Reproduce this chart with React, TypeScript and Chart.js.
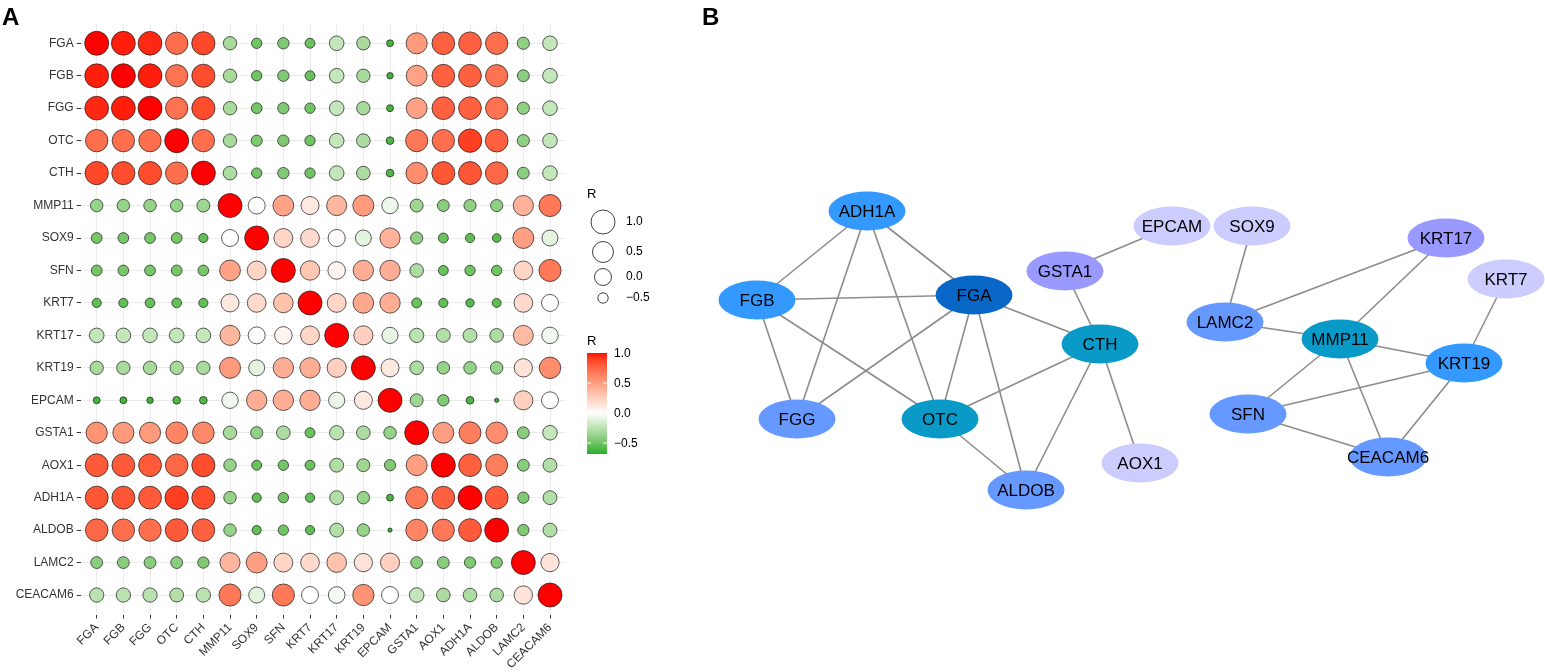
import React, { useEffect, useRef } from "react";
import { Chart, registerables } from "chart.js";
Chart.register(...registerables);

// ---------------- Panel A data ----------------
const genes = ["FGA","FGB","FGG","OTC","CTH","MMP11","SOX9","SFN","KRT7","KRT17","KRT19","EPCAM","GSTA1","AOX1","ADH1A","ALDOB","LAMC2","CEACAM6"];

const rowFGA     = [1.00, 0.97, 0.95, 0.72, 0.87, -0.32, -0.50, -0.45, -0.52, -0.22, -0.32, -0.62, 0.52, 0.78, 0.78, 0.72, -0.40, -0.22];
const rowFGB     = [0.97, 1.00, 0.97, 0.70, 0.85, -0.32, -0.50, -0.45, -0.52, -0.22, -0.32, -0.63, 0.48, 0.78, 0.78, 0.70, -0.42, -0.22];
const rowFGG     = [0.95, 0.97, 1.00, 0.70, 0.85, -0.32, -0.48, -0.45, -0.50, -0.22, -0.32, -0.62, 0.48, 0.78, 0.78, 0.70, -0.40, -0.22];
const rowOTC     = [0.72, 0.72, 0.72, 1.00, 0.72, -0.32, -0.46, -0.45, -0.50, -0.22, -0.30, -0.60, 0.68, 0.72, 0.90, 0.78, -0.40, -0.22];
const rowCTH     = [0.87, 0.85, 0.85, 0.72, 1.00, -0.30, -0.50, -0.45, -0.50, -0.22, -0.30, -0.60, 0.58, 0.82, 0.82, 0.75, -0.42, -0.22];
const rowMMP11   = [-0.38, -0.38, -0.38, -0.38, -0.35, 1.00, 0.00, 0.48, 0.12, 0.38, 0.52, -0.06, -0.35, -0.42, -0.40, -0.40, 0.40, 0.68];
const rowSOX9    = [-0.48, -0.48, -0.48, -0.48, -0.55, 0.00, 1.00, 0.22, 0.20, 0.02, -0.10, 0.40, -0.40, -0.52, -0.55, -0.57, 0.50, -0.10];
const rowSFN     = [-0.48, -0.48, -0.48, -0.48, -0.48, 0.48, 0.22, 1.00, 0.30, 0.06, 0.42, 0.42, -0.30, -0.52, -0.50, -0.50, 0.22, 0.68];
const rowKRT7    = [-0.55, -0.55, -0.53, -0.53, -0.55, 0.12, 0.20, 0.32, 1.00, 0.22, 0.45, 0.42, -0.52, -0.55, -0.58, -0.56, 0.20, 0.00];
const rowKRT17   = [-0.22, -0.22, -0.22, -0.22, -0.22, 0.38, 0.00, 0.06, 0.22, 1.00, 0.25, -0.08, -0.25, -0.28, -0.28, -0.30, 0.36, -0.05];
const rowKRT19   = [-0.32, -0.32, -0.32, -0.32, -0.32, 0.52, -0.10, 0.42, 0.42, 0.25, 1.00, 0.12, -0.30, -0.38, -0.38, -0.38, 0.15, 0.58];
const rowEPCAM   = [-0.62, -0.62, -0.63, -0.60, -0.60, -0.06, 0.42, 0.42, 0.42, -0.08, 0.12, 1.00, -0.35, -0.45, -0.60, -0.66, 0.25, 0.00];
const rowGSTA1   = [0.55, 0.52, 0.52, 0.62, 0.60, -0.32, -0.40, -0.30, -0.52, -0.25, -0.30, -0.38, 1.00, 0.50, 0.65, 0.58, -0.42, -0.22];
const rowAOX1    = [0.80, 0.80, 0.80, 0.75, 0.85, -0.38, -0.52, -0.50, -0.52, -0.28, -0.35, -0.45, 0.50, 1.00, 0.78, 0.65, -0.42, -0.28];
const rowADH1A   = [0.82, 0.82, 0.80, 0.90, 0.85, -0.38, -0.55, -0.50, -0.55, -0.28, -0.38, -0.62, 0.68, 0.78, 1.00, 0.80, -0.45, -0.28];
const rowALDOB   = [0.75, 0.72, 0.72, 0.80, 0.78, -0.38, -0.55, -0.50, -0.55, -0.28, -0.38, -0.66, 0.62, 0.68, 0.80, 1.00, -0.45, -0.28];
const rowLAMC2   = [-0.42, -0.42, -0.42, -0.42, -0.45, 0.38, 0.50, 0.22, 0.20, 0.32, 0.15, 0.25, -0.42, -0.42, -0.45, -0.45, 1.00, 0.15];
const rowCEACAM6 = [-0.25, -0.25, -0.25, -0.28, -0.25, 0.68, -0.10, 0.68, 0.00, -0.04, 0.55, 0.00, -0.22, -0.30, -0.30, -0.30, 0.15, 1.00];

const corrRows = [rowFGA, rowFGB, rowFGG, rowOTC, rowCTH, rowMMP11, rowSOX9, rowSFN, rowKRT7, rowKRT17, rowKRT19, rowEPCAM, rowGSTA1, rowAOX1, rowADH1A, rowALDOB, rowLAMC2, rowCEACAM6];

const sizeLegendValues = [1.0, 0.5, 0.0, -0.5];
const sizeLegendLabels = ["1.0", "0.5", "0.0", "\u22120.5"];
const colorbarValues = [1.0, 0.5, 0.0, -0.5];
const colorbarLabels = ["1.0", "0.5", "0.0", "\u22120.5"];
const R_MIN = -0.667;
const R_MAX = 1.0;

// ---------------- Panel B data ----------------
const nodeNames = ["ADH1A","EPCAM","SOX9","KRT17","GSTA1","KRT7","FGB","FGA","LAMC2","MMP11","CTH","KRT19","FGG","OTC","SFN","AOX1","CEACAM6","ALDOB"];
const nodeX = [867, 1172, 1252, 1446, 1065, 1506, 757, 974, 1225, 1340, 1100, 1464, 797, 940, 1248, 1140, 1388, 1026];
const nodeY = [211, 226, 226, 238, 271, 279, 300, 295, 322, 339, 344, 363, 419, 419, 414, 463, 457, 490];
const edgeFrom = ["ADH1A","ADH1A","ADH1A","ADH1A","FGB","FGB","FGB","FGA","FGA","FGA","FGA","GSTA1","GSTA1","CTH","CTH","CTH","OTC","SOX9","KRT17","KRT17","LAMC2","MMP11","KRT7","MMP11","MMP11","KRT19","KRT19","SFN"];
const edgeTo   = ["FGB","FGG","OTC","FGA","FGA","FGG","OTC","FGG","OTC","ALDOB","CTH","EPCAM","CTH","OTC","ALDOB","AOX1","ALDOB","LAMC2","LAMC2","MMP11","MMP11","KRT19","KRT19","SFN","CEACAM6","SFN","CEACAM6","CEACAM6"];
const degreeColors: Record<number, string> = { 1: "#CCCCFF", 2: "#9999FF", 3: "#6699FF", 4: "#3399FF", 5: "#0A9AC8", 6: "#0866C6" };

// ---------------- colour helpers (Lab interpolation like ggplot) ----------------
const FONT = '"Liberation Sans", Arial, Helvetica, sans-serif';
function hexToRgb(h: string) { return [1, 3, 5].map((i) => parseInt(h.slice(i, i + 2), 16)); }
function toLin(c: number) { c /= 255; return c <= 0.04045 ? c / 12.92 : Math.pow((c + 0.055) / 1.055, 2.4); }
function fromLin(c: number) {
  const v = c <= 0.0031308 ? 12.92 * c : 1.055 * Math.pow(Math.max(c, 0), 1 / 2.4) - 0.055;
  return Math.round(Math.min(1, Math.max(0, v)) * 255);
}
function rgbToLab(rgb: number[]) {
  const [r, g, b] = rgb.map(toLin);
  const X = (0.4124 * r + 0.3576 * g + 0.1805 * b) / 0.95047;
  const Y = 0.2126 * r + 0.7152 * g + 0.0722 * b;
  const Z = (0.0193 * r + 0.1192 * g + 0.9505 * b) / 1.08883;
  const f = (t: number) => (t > 0.008856 ? Math.cbrt(t) : 7.787 * t + 16 / 116);
  const fx = f(X), fy = f(Y), fz = f(Z);
  return [116 * fy - 16, 500 * (fx - fy), 200 * (fy - fz)];
}
function labToRgb(lab: number[]) {
  const [L, a, b] = lab;
  const fy = (L + 16) / 116, fx = fy + a / 500, fz = fy - b / 200;
  const finv = (t: number) => (t * t * t > 0.008856 ? t * t * t : (t - 16 / 116) / 7.787);
  const X = finv(fx) * 0.95047, Y = finv(fy), Z = finv(fz) * 1.08883;
  const r = 3.2406 * X - 1.5372 * Y - 0.4986 * Z;
  const g = -0.9689 * X + 1.8758 * Y + 0.0415 * Z;
  const bb = 0.0557 * X - 0.204 * Y + 1.057 * Z;
  return [fromLin(r), fromLin(g), fromLin(bb)];
}
const LAB_WHITE = rgbToLab([255, 255, 255]);
const LAB_RED = rgbToLab(hexToRgb("#FF0000"));
const LAB_GREEN = rgbToLab(hexToRgb("#2CAF2C"));
function fillFor(v: number) {
  const target = v >= 0 ? LAB_RED : LAB_GREEN;
  const t = v >= 0 ? Math.min(1, v / R_MAX) : Math.min(1, v / R_MIN);
  const lab = LAB_WHITE.map((w, i) => w + (target[i] - w) * t);
  const [r, g, b] = labToRgb(lab);
  return `rgb(${r},${g},${b})`;
}
function radiusFor(v: number) {
  const t = Math.max(0, (v - R_MIN) / (R_MAX - R_MIN));
  return (2 + 22 * Math.pow(t, 0.42)) / 2;
}

// ---------------- Panel A chart ----------------
function buildMatrixConfig(): any {
  const points: any[] = [];
  corrRows.forEach((row, ri) => {
    row.forEach((v, ci) => {
      points.push({ x: ci + 1, y: ri + 1, r: radiusFor(v), v });
    });
  });
  const tickFont = { family: FONT, size: 12 };
  const legendPlugin = {
    id: "matrixLegend",
    afterDraw(chart: any) {
      const ctx = chart.ctx;
      ctx.save();
      ctx.fillStyle = "#000";
      ctx.textAlign = "left";
      ctx.textBaseline = "alphabetic";
      ctx.font = `bold 24px ${FONT}`;
      ctx.fillText("A", 2, 25);

      // size legend
      ctx.font = `13px ${FONT}`;
      ctx.fillText("R", 587, 198);
      const sizeYs = [222, 252, 277, 298];
      ctx.textBaseline = "middle";
      ctx.font = `12px ${FONT}`;
      sizeLegendValues.forEach((v, i) => {
        ctx.beginPath();
        ctx.arc(603, sizeYs[i], radiusFor(v), 0, Math.PI * 2);
        ctx.fillStyle = "#fff";
        ctx.fill();
        ctx.lineWidth = 0.8;
        ctx.strokeStyle = "#111";
        ctx.stroke();
        ctx.fillStyle = "#000";
        ctx.fillText(sizeLegendLabels[i], 626, sizeYs[i]);
      });

      // colour bar
      ctx.textBaseline = "alphabetic";
      ctx.font = `13px ${FONT}`;
      ctx.fillText("R", 587, 345);
      const barTop = 353, pxPerUnit = 60, barX = 587, barW = 20;
      const barBottom = barTop + (R_MAX - R_MIN) * pxPerUnit;
      for (let y = barTop; y < barBottom; y += 1) {
        const v = R_MAX - (y + 0.5 - barTop) / pxPerUnit;
        ctx.fillStyle = fillFor(v);
        ctx.fillRect(barX, y, barW, 1);
      }
      ctx.strokeStyle = "#fff";
      ctx.lineWidth = 1;
      ctx.font = `12px ${FONT}`;
      ctx.textBaseline = "middle";
      colorbarValues.forEach((v, i) => {
        const y = barTop + (R_MAX - v) * pxPerUnit;
        if (i > 0) {
          ctx.beginPath();
          ctx.moveTo(barX, y); ctx.lineTo(barX + 4, y);
          ctx.moveTo(barX + barW - 4, y); ctx.lineTo(barX + barW, y);
          ctx.stroke();
        }
        ctx.fillStyle = "#000";
        ctx.fillText(colorbarLabels[i], 614, y + 1);
      });
      ctx.restore();
    },
  };

  const tickSetter = (scale: any) => {
    scale.ticks = genes.map((_, i) => ({ value: i + 1 }));
  };

  return {
    type: "bubble",
    data: {
      datasets: [
        {
          data: points,
          backgroundColor: (c: any) => (c.raw ? fillFor(c.raw.v) : "#fff"),
          borderColor: "#1a1a1a",
          borderWidth: 0.7,
          clip: false,
        },
      ],
    },
    options: {
      responsive: false,
      devicePixelRatio: 1,
      animation: false,
      events: [],
      layout: { autoPadding: false, padding: { left: 0, top: 23.8, right: 134, bottom: 0 } },
      plugins: { legend: { display: false }, tooltip: { enabled: false } },
      scales: {
        x: {
          type: "linear",
          min: 0.4,
          max: 18.6,
          afterBuildTicks: tickSetter,
          afterFit: (s: any) => { s.height = 57.5; },
          border: { display: false },
          grid: { color: "#EBEBEB", lineWidth: 1, tickColor: "#333", tickLength: 4, drawTicks: true },
          ticks: {
            autoSkip: false,
            maxRotation: 45,
            minRotation: 45,
            padding: 2,
            color: "#333",
            font: tickFont,
            callback: (v: any) => genes[Math.round(v) - 1] ?? "",
          },
        },
        y: {
          type: "linear",
          reverse: true,
          min: 0.4,
          max: 18.6,
          afterBuildTicks: tickSetter,
          afterFit: (s: any) => { s.width = 80.7; },
          border: { display: false },
          grid: { color: "#EBEBEB", lineWidth: 1, tickColor: "#333", tickLength: 4, drawTicks: true },
          ticks: {
            autoSkip: false,
            padding: 3,
            color: "#333",
            font: tickFont,
            callback: (v: any) => genes[Math.round(v) - 1] ?? "",
          },
        },
      },
    },
    plugins: [legendPlugin],
  };
}

// ---------------- Panel B chart ----------------
function ellipseImage(color: string) {
  const c = document.createElement("canvas");
  c.width = 80;
  c.height = 42;
  const g = c.getContext("2d")!;
  g.beginPath();
  g.ellipse(40, 21, 38.5, 19.5, 0, 0, Math.PI * 2);
  g.fillStyle = color;
  g.fill();
  return c;
}

function buildNetworkConfig(): any {
  const idx = (n: string) => nodeNames.indexOf(n);
  const degree = nodeNames.map((n) => edgeFrom.filter((e) => e === n).length + edgeTo.filter((e) => e === n).length);
  const images: Record<string, HTMLCanvasElement> = {};
  const styles = degree.map((d) => {
    const col = degreeColors[d];
    if (!images[col]) images[col] = ellipseImage(col);
    return images[col];
  });
  const edgeSets = edgeFrom.map((f, i) => {
    const a = idx(f), b = idx(edgeTo[i]);
    return {
      type: "scatter",
      data: [{ x: nodeX[a], y: nodeY[a] }, { x: nodeX[b], y: nodeY[b] }],
      showLine: true,
      borderColor: "#8C8C8C",
      borderWidth: 1.6,
      pointRadius: 0,
      order: 1,
    };
  });
  const nodeSet = {
    type: "scatter",
    data: nodeNames.map((_, i) => ({ x: nodeX[i], y: nodeY[i] })),
    pointStyle: styles,
    pointRadius: 20,
    order: 0,
  };
  const labelPlugin = {
    id: "nodeLabels",
    afterDatasetsDraw(chart: any) {
      const ctx = chart.ctx;
      const xs = chart.scales.x, ys = chart.scales.y;
      ctx.save();
      ctx.fillStyle = "#000";
      ctx.textAlign = "center";
      ctx.textBaseline = "middle";
      ctx.font = `17px ${FONT}`;
      nodeNames.forEach((n, i) => {
        ctx.fillText(n, xs.getPixelForValue(nodeX[i]), ys.getPixelForValue(nodeY[i]) + 1);
      });
      ctx.textAlign = "left";
      ctx.textBaseline = "alphabetic";
      ctx.font = `bold 24px ${FONT}`;
      ctx.fillText("B", 2, 25);
      ctx.restore();
    },
  };
  return {
    type: "scatter",
    data: { datasets: [nodeSet, ...edgeSets] },
    options: {
      responsive: false,
      devicePixelRatio: 1,
      animation: false,
      events: [],
      layout: { autoPadding: false, padding: 0 },
      plugins: { legend: { display: false }, tooltip: { enabled: false } },
      scales: {
        x: { type: "linear", min: 700, max: 1545, display: false },
        y: { type: "linear", min: 0, max: 672, reverse: true, display: false },
      },
    },
    plugins: [labelPlugin],
  };
}

export default function App() {
  const refA = useRef<HTMLCanvasElement>(null);
  const refB = useRef<HTMLCanvasElement>(null);
  useEffect(() => {
    const chartA = new Chart(refA.current!, buildMatrixConfig());
    const chartB = new Chart(refB.current!, buildNetworkConfig());
    return () => {
      chartA.destroy();
      chartB.destroy();
    };
  }, []);
  return (
    <div style={{ position: "absolute", left: 0, top: 0, width: 1545, height: 672, background: "#fff", overflow: "hidden" }}>
      <canvas ref={refA} width={700} height={672} style={{ position: "absolute", left: 0, top: 0, width: 700, height: 672 }} />
      <canvas ref={refB} width={845} height={672} style={{ position: "absolute", left: 700, top: 0, width: 845, height: 672 }} />
    </div>
  );
}
